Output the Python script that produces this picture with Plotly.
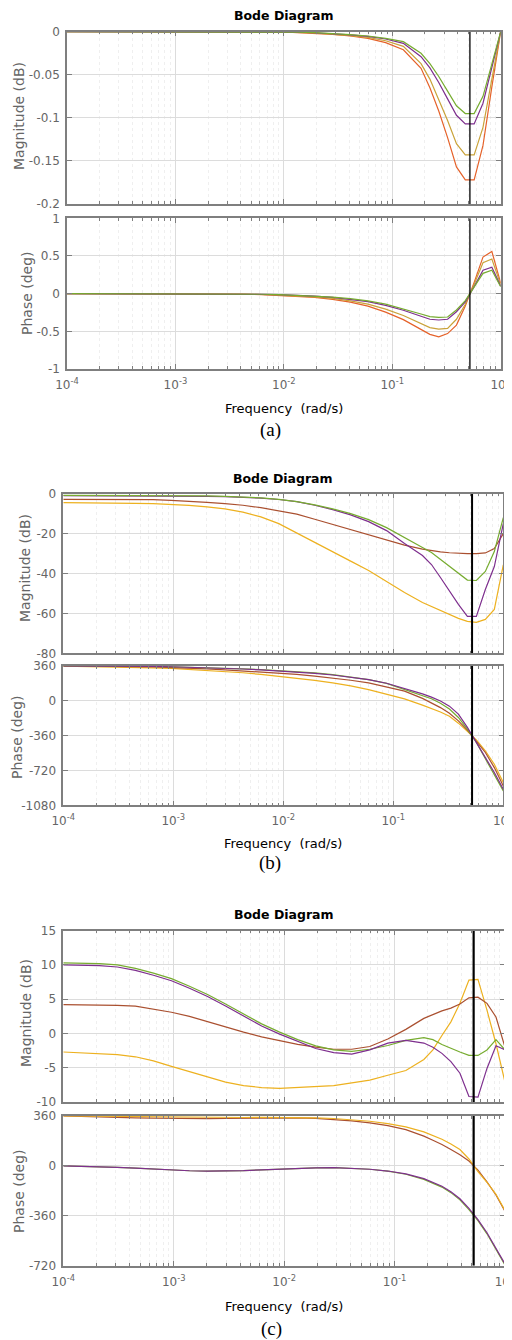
import plotly.graph_objects as go

# ---------------- data ----------------
freq = [1.0e-4, 1.456e-4, 2.121e-4, 3.089e-4, 4.498e-4, 6.551e-4, 9.541e-4,
        1.389e-3, 2.024e-3, 2.947e-3, 4.292e-3, 6.251e-3, 9.103e-3,
        1.326e-2, 1.931e-2, 2.812e-2, 4.095e-2, 5.964e-2, 8.685e-2,
        0.1265, 0.1842, 0.2223, 0.2683, 0.3237, 0.3907, 0.4715, 0.5690,
        0.6866, 0.8286, 1.0]
marker_freq = 0.52

# (a) magnitude (dB)
a_mag_green = [0]*13 + [-0.0005, -0.001, -0.002, -0.0034, -0.005, -0.0077, -0.0116, -0.025,
                        -0.037, -0.052, -0.069, -0.086, -0.095, -0.095, -0.075, -0.037, 0]
a_mag_purple = [0]*13 + [-0.0006, -0.0012, -0.0022, -0.0038, -0.0055, -0.0085, -0.0135, -0.029,
                         -0.042, -0.059, -0.078, -0.097, -0.107, -0.107, -0.083, -0.042, 0]
a_mag_gold = [0]*13 + [-0.0008, -0.0015, -0.0027, -0.0045, -0.0066, -0.0105, -0.017, -0.037,
                       -0.055, -0.078, -0.103, -0.13, -0.143, -0.143, -0.111, -0.055, 0]
a_mag_orange = [0]*13 + [-0.001, -0.0018, -0.003, -0.005, -0.0077, -0.0127, -0.021, -0.0425,
                         -0.065, -0.092, -0.123, -0.157, -0.172, -0.172, -0.132, -0.064, 0]
# (a) phase (deg)
a_ph_green = [0]*8 + [-0.002, -0.003, -0.005, -0.008, -0.012, -0.02, -0.03, -0.045, -0.065, -0.095,
                      -0.14, -0.2, -0.27, -0.305, -0.315, -0.31, -0.217, -0.093, 0.08, 0.27, 0.31, 0.093]
a_ph_purple = [0]*8 + [-0.002, -0.003, -0.005, -0.009, -0.013, -0.022, -0.033, -0.05, -0.073, -0.105,
                       -0.155, -0.22, -0.3, -0.34, -0.35, -0.34, -0.24, -0.109, 0.093, 0.31, 0.35, 0.1]
a_ph_gold = [0]*8 + [-0.003, -0.004, -0.007, -0.011, -0.018, -0.028, -0.042, -0.063, -0.095, -0.14,
                     -0.205, -0.29, -0.4, -0.45, -0.47, -0.46, -0.34, -0.14, 0.125, 0.41, 0.46, 0.12]
a_ph_orange = [0]*8 + [-0.003, -0.005, -0.008, -0.013, -0.022, -0.033, -0.05, -0.075, -0.112, -0.165,
                       -0.245, -0.345, -0.48, -0.54, -0.573, -0.53, -0.417, -0.165, 0.15, 0.485, 0.56, 0.14]

# (b) magnitude (dB)
b_mag_green = [-0.8, -0.8, -0.8, -0.8, -0.8, -0.85, -0.9, -1.0, -1.1, -1.3, -1.6, -2.1, -2.8, -4.0,
               -5.6, -7.6, -10.0, -13.0, -17.0, -21.8, -27.0, -29.5, -33.0, -36.5, -40.0, -43.3,
               -43.5, -39.0, -29.0, -12.0]
b_mag_purple = [-1.0, -1.0, -1.0, -1.0, -1.0, -1.05, -1.1, -1.2, -1.3, -1.5, -1.8, -2.2, -2.9, -4.0,
                -5.8, -8.0, -10.6, -14.0, -18.5, -25.0, -31.0, -35.5, -42.0, -49.0, -55.5, -61.5,
                -61.5, -48.0, -36.5, -15.0]
b_mag_brown = [-2.8, -2.8, -2.8, -2.8, -2.9, -3.0, -3.3, -3.7, -4.3, -5.0, -5.8, -7.0, -8.5, -10.2,
               -12.8, -15.4, -18.0, -20.6, -23.2, -25.8, -27.8, -28.6, -29.2, -29.6, -29.9, -30.0,
               -30.0, -29.7, -27.5, -20.0]
b_mag_yellow = [-4.5, -4.5, -4.6, -4.7, -4.8, -5.0, -5.3, -5.9, -6.6, -7.6, -9.2, -11.6, -15.0, -19.8,
                -24.5, -29.0, -33.8, -38.5, -44.0, -49.5, -54.5, -56.5, -58.5, -60.5, -62.5, -64.0,
                -64.5, -63.0, -58.0, -35.7]
# (b) phase (deg)
b_ph_green = [360, 360, 359, 358, 357, 355, 352, 348, 344, 338, 330, 322, 313, 302, 288, 270, 248,
              220, 180, 120, 60, 22, -25, -85, -172, -293, -431, -603, -759, -931]
b_ph_purple = [360, 360, 359, 358, 357, 355, 352, 348, 343, 337, 329, 320, 310, 298, 284, 267, 246,
               219, 182, 128, 72, 38, -2, -55, -138, -275, -431, -586, -741, -914]
b_ph_brown = [360, 360, 359, 357, 354, 350, 345, 338, 330, 320, 310, 298, 287, 273, 255, 236, 213,
              185, 145, 100, 25, -20, -70, -128, -207, -303, -414, -534, -690, -880]
b_ph_yellow = [358, 356, 354, 350, 346, 341, 335, 325, 315, 303, 290, 273, 255, 235, 212, 185, 155,
               115, 70, 20, -45, -78, -115, -160, -231, -314, -404, -517, -655, -845]

# (c) magnitude (dB)
c_mag_green = [10.3, 10.3, 10.2, 10.0, 9.5, 8.8, 8.0, 6.9, 5.7, 4.3, 2.8, 1.4, 0.2, -0.9, -1.8,
               -2.4, -2.6, -2.3, -1.75, -1.0, -0.6, -0.9, -1.6, -2.2, -2.7, -3.2, -3.2, -2.4, -0.9, -2.4]
c_mag_purple = [10.0, 10.0, 9.9, 9.7, 9.2, 8.5, 7.7, 6.6, 5.4, 4.0, 2.5, 1.1, -0.1, -1.2, -2.2,
                -2.8, -3.0, -2.4, -1.4, -1.0, -1.4, -2.0, -2.9, -4.1, -5.8, -9.2, -9.3, -5.1, -1.8, -2.4]
c_mag_brown = [4.2, 4.2, 4.2, 4.1, 4.0, 3.6, 3.1, 2.5, 1.7, 1.0, 0.2, -0.5, -1.1, -1.6, -2.0,
               -2.3, -2.3, -1.9, -0.8, 0.6, 2.2, 2.8, 3.3, 3.7, 4.3, 5.2, 5.3, 4.4, 2.4, -2.0]
c_mag_yellow = [-2.7, -2.8, -2.9, -3.1, -3.4, -4.0, -4.8, -5.6, -6.4, -7.1, -7.6, -7.9, -8.0, -7.9,
                -7.8, -7.6, -7.2, -6.8, -6.1, -5.4, -3.8, -2.4, -0.3, 1.7, 4.4, 7.8, 7.9, 3.4, -1.5, -7.1]
# (c) phase (deg)
c_ph_green = [0, -2, -5, -10, -16, -24, -30, -35, -38, -37, -34, -28, -22, -17, -14, -13, -16, -24,
              -38, -60, -97, -123, -153, -193, -245, -315, -395, -490, -600, -715]
c_ph_purple = [0, -2, -5, -10, -16, -24, -30, -35, -38, -37, -34, -28, -22, -17, -14, -13, -16, -24,
               -37, -57, -92, -117, -147, -186, -237, -306, -388, -482, -592, -708]
c_ph_brown = [360, 358, 355, 351, 347, 344, 342, 341, 341, 342, 344, 346, 347, 346, 343, 336, 325,
              310, 290, 262, 215, 185, 155, 118, 80, 35, -30, -115, -210, -328]
c_ph_yellow = [360, 359, 358, 356, 353, 351, 349, 348, 348, 348, 349, 350, 350, 349, 347, 342, 334,
               322, 305, 282, 245, 220, 192, 158, 118, 50, -42, -118, -205, -322]

x_tickvals = [1e-4, 1e-3, 1e-2, 1e-1, 1]
x_ticktext = ['10<sup>-4</sup>', '10<sup>-3</sup>', '10<sup>-2</sup>', '10<sup>-1</sup>', '10<sup>0</sup>']
x_minor = [m * 10.0 ** e for e in range(-4, 0) for m in range(2, 10)]

a_mag_ticks = [0, -0.05, -0.1, -0.15, -0.2]
a_mag_labels = ['0', '-0.05', '-0.1', '-0.15', '-0.2']
a_ph_ticks = [1, 0.5, 0, -0.5, -1]
a_ph_labels = ['1', '0.5', '0', '-0.5', '-1']
b_mag_ticks = [0, -20, -40, -60, -80]
b_ph_ticks = [360, 0, -360, -720, -1080]
c_mag_ticks = [15, 10, 5, 0, -5, -10]
c_ph_ticks = [360, 0, -360, -720]

# ---------------- style ----------------
OFF = 8                       # default page margin around the plot div
W, H = 512 - OFF, 1340 - OFF
GREEN, PURPLE, GOLD, ORANGE = '#77AC30', '#7E2F8E', '#C9A33A', '#E5622A'
BROWN, YELLOW = '#AA5030', '#EDB120'
AX = '#7f7f7f'
TXT = '#666666'
FONT = 'DejaVu Sans'


def fx(p):
    return (p - OFF) / W


def fy(p):
    return 1 - (p - OFF) / H


panels = [
    dict(x=(67, 500.7), mag=(31.7, 204), ph=(218.3, 369),
         magr=[-0.2, 0], phr=[-1, 1],
         magt=(a_mag_ticks, a_mag_labels), pht=(a_ph_ticks, a_ph_labels),
         mags=[(a_mag_orange, ORANGE), (a_mag_gold, GOLD), (a_mag_purple, PURPLE), (a_mag_green, GREEN)],
         phs=[(a_ph_orange, ORANGE), (a_ph_gold, GOLD), (a_ph_purple, PURPLE), (a_ph_green, GREEN)],
         vw=1.3, title_y=15, freq_y=408, lab='(a)', lab_y=430,
         magtitle=(19, 116), phtitle=(27, 293)),
    dict(x=(63.3, 503.3), mag=(493.7, 653.3), ph=(666, 805.3),
         magr=[-80, 0], phr=[-1080, 360],
         magt=(b_mag_ticks, [str(v) for v in b_mag_ticks]), pht=(b_ph_ticks, [str(v) for v in b_ph_ticks]),
         mags=[(b_mag_yellow, YELLOW), (b_mag_brown, BROWN), (b_mag_purple, PURPLE), (b_mag_green, GREEN)],
         phs=[(b_ph_yellow, YELLOW), (b_ph_brown, BROWN), (b_ph_green, GREEN), (b_ph_purple, PURPLE)],
         vw=2, title_y=478, freq_y=843, lab='(b)', lab_y=863,
         magtitle=(25, 568), phtitle=(17, 737)),
    dict(x=(63.3, 505), mag=(930.7, 1102), ph=(1116, 1265.7),
         magr=[-10, 15], phr=[-720, 360],
         magt=(c_mag_ticks, [str(v) for v in c_mag_ticks]), pht=(c_ph_ticks, [str(v) for v in c_ph_ticks]),
         mags=[(c_mag_yellow, YELLOW), (c_mag_brown, BROWN), (c_mag_green, GREEN), (c_mag_purple, PURPLE)],
         phs=[(c_ph_green, GREEN), (c_ph_purple, PURPLE), (c_ph_brown, BROWN), (c_ph_yellow, YELLOW)],
         vw=2.2, title_y=914, freq_y=1306, lab='(c)', lab_y=1329,
         magtitle=(26, 1013), phtitle=(19, 1191)),
]

fig = go.Figure()
layout = dict(template='none', width=W, height=H, margin=dict(l=0, r=0, t=0, b=0, pad=0),
              paper_bgcolor='white', plot_bgcolor='white', showlegend=False,
              hovermode=False, annotations=[])


def xaxis_cfg(dom, show_labels, anchor):
    return dict(type='log', range=[-4, 0], domain=[fx(dom[0]), fx(dom[1])], anchor=anchor,
                automargin=False, ticklabeloverflow='allow',
                showline=True, linecolor=AX, linewidth=1.5, mirror='ticks',
                ticks='inside', ticklen=5, tickcolor=AX, tickwidth=1,
                tickvals=x_tickvals, ticktext=x_ticktext, showticklabels=show_labels,
                tickfont=dict(family=FONT, size=12, color=TXT), ticklabelstandoff=4,
                showgrid=True, gridcolor='#dcdcdc', gridwidth=1, zeroline=False,
                minor=dict(tickvals=x_minor, ticks='inside', ticklen=3, tickcolor=AX,
                           showgrid=True, gridcolor='#efefef', griddash='dot', gridwidth=1))


def yaxis_cfg(dom, rng, ticks, anchor):
    return dict(range=rng, domain=[fy(dom[1]), fy(dom[0])], anchor=anchor,
                automargin=False, ticklabeloverflow='allow',
                showline=True, linecolor=AX, linewidth=1.5, mirror='ticks',
                ticks='inside', ticklen=5, tickcolor=AX, tickwidth=1,
                tickvals=ticks[0], ticktext=ticks[1],
                tickfont=dict(family=FONT, size=12, color=TXT), ticklabelstandoff=3,
                showgrid=True, gridcolor='#dcdcdc', gridwidth=1, zeroline=False)


def ann(text, x, y, size, color='black', family=FONT, angle=0):
    return dict(text=text, x=fx(x), y=fy(y), xref='paper', yref='paper', showarrow=False,
                xanchor='center', yanchor='middle', textangle=angle,
                font=dict(family=family, size=size, color=color))


n = 0
for p in panels:
    for kind in ('mag', 'ph'):
        n += 1
        xa = 'xaxis' if n == 1 else 'xaxis%d' % n
        ya = 'yaxis' if n == 1 else 'yaxis%d' % n
        xr = 'x' if n == 1 else 'x%d' % n
        yr = 'y' if n == 1 else 'y%d' % n
        layout[xa] = xaxis_cfg(p['x'], kind == 'ph', yr)
        rng = p['magr'] if kind == 'mag' else p['phr']
        tk = p['magt'] if kind == 'mag' else p['pht']
        layout[ya] = yaxis_cfg(p[kind], rng, tk, xr)
        series = p['mags'] if kind == 'mag' else p['phs']
        for vals, col in series:
            fig.add_trace(go.Scatter(x=freq, y=vals, mode='lines', xaxis=xr, yaxis=yr,
                                     line=dict(color=col, width=1.2)))
        fig.add_trace(go.Scatter(x=[marker_freq, marker_freq], y=rng, mode='lines',
                                 xaxis=xr, yaxis=yr, line=dict(color='black', width=p['vw'])))
    cx = (p['x'][0] + p['x'][1]) / 2
    layout['annotations'].append(ann('<b>Bode Diagram</b>', cx, p['title_y'], 12.5))
    layout['annotations'].append(ann('Frequency\u00a0 (rad/s)', cx, p['freq_y'], 13))
    layout['annotations'].append(ann(p['lab'], cx - 13, p['lab_y'], 19, family='Liberation Serif'))
    layout['annotations'].append(ann('Magnitude (dB)', p['magtitle'][0], p['magtitle'][1], 14,
                                     color=TXT, angle=-90))
    layout['annotations'].append(ann('Phase (deg)', p['phtitle'][0], p['phtitle'][1], 14,
                                     color=TXT, angle=-90))

fig.update_layout(**layout)
fig.write_html('out.html')
